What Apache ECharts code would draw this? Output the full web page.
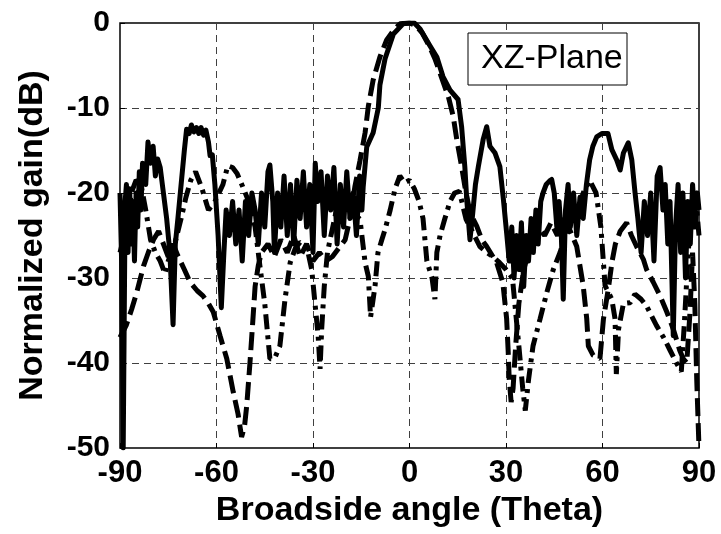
<!DOCTYPE html>
<html><head><meta charset="utf-8">
<script src="https://cdn.jsdelivr.net/npm/echarts@6/dist/echarts.min.js"></script>
<style>html,body{margin:0;padding:0;background:#fff}#c{width:721px;height:534px}</style>
</head><body><div id="c"></div>
<script>
// Axis ticks
const xTickValues = [-90, -60, -30, 0, 30, 60, 90];
const yTickValues = [-50, -40, -30, -20, -10, 0];

// Solid curve
const solidX = [
 -90,-89.5,-89,-88.4,-88,-87.5,-87,-86.5,-86,-85.5,
 -85,-84.5,-84,-83.5,-83,-82,-81.3,-80.5,-79.7,-79,
 -78.3,-77.5,-76.5,-75.5,-74.5,-73.5,-72.8,-72,-71,-70,
 -69.3,-68.5,-67.8,-67,-66.2,-65.5,-64.8,-64,-63.3,-62.5,
 -62,-61.3,-60.5,-59.5,-58.5,-57.7,-57,-56,-55,-54,
 -53,-52,-51,-50,-49,-48,-47,-46,-45,-44,
 -43.4,-42.5,-42,-41,-40,-39,-38,-37,-36,-35,
 -34,-33,-32,-31,-30,-29.3,-28.5,-27.5,-26.5,-25.5,
 -24.5,-23.5,-22.5,-21.5,-20.5,-19.5,-18.5,-17.5,-16.5,-15.5,
 -14.8,-14.4,-13.3,-11.3,-9.7,-9.2,-7.6,-5,-2,0,
 1.5,3.3,6.4,8.5,10.4,12.6,15.1,16.2,17.2,17.8,
 18.8,19.5,20.5,21.4,22.9,24,25,26.6,28.1,29.2,
 30.2,31,31.8,32.5,33.3,34,34.8,35.5,36.3,37,
 37.8,38.5,39.3,40,40.8,41.5,42.5,43.5,44.2,45,
 45.8,46.5,47.2,47.8,48.5,49.3,50,51,52,53,
 54,55,56,57,58.2,59.8,61.7,62.9,64.4,65.5,
 66.5,68,69.1,70.1,71,72,73,74,75,76,
 77,77.9,78.8,79.5,80.3,81,82,82.7,83.5,84.3,
 85,85.8,86.5,87.3,88,88.8,89.5,90
];
const solidY = [
 -20,-28,-50,-21,-19,-27,-19.5,-26,-21,-28,
 -20,-24,-17.5,-22,-16.5,-19,-14,-16.5,-14.5,-18,
 -16,-17,-20,-23,-27,-35.5,-26,-23,-19,-15,
 -12.5,-13,-12,-12.8,-12.3,-13,-12.3,-13.2,-12.6,-14,
 -15.6,-15.5,-19,-25,-33.5,-27,-22,-25,-21,-26,
 -22,-28,-21,-25,-20,-22,-26,-20,-24,-17.5,
 -16.7,-21,-27,-20,-24,-18,-25,-19,-26,-18.5,
 -23,-17.5,-24,-19,-27,-16.5,-21,-17.5,-25,-18,
 -22,-17,-26,-19,-24,-17.5,-23,-20,-25,-18,
 -22,-19.3,-14.6,-12.9,-10,-7.3,-4.2,-1.3,-0.1,0,
 0,-0.7,-2.7,-4,-6.3,-7.9,-9,-12.2,-16.9,-20.8,
 -25.5,-23,-19,-16.9,-13.7,-12.2,-14.5,-15.3,-16.9,-20.8,
 -24.7,-28,-24,-30,-25,-29,-23.5,-31,-25,-28,
 -23,-27,-22,-26,-21,-20,-19,-18.6,-18.4,-20,
 -24,-21,-25,-32.5,-22,-19,-24,-20,-25,-20.5,
 -23,-19,-16.1,-14.5,-13.4,-13,-13,-14.9,-16.1,-17.3,
 -15.3,-14.1,-16.1,-19.9,-23,-27,-21,-25,-20,-28,
 -18,-17,-22,-19,-26,-21,-36.8,-24,-19,-27,
 -20,-30,-21,-26,-19,-24,-20,-22
];

// Dashed curve
const dashX = [
 -90,-88,-86.4,-84.8,-82.7,-81.2,-79.6,-78,-76.5,-75,
 -73.5,-72,-70,-68.2,-66,-64.2,-62.5,-61,-58.9,-56.8,
 -54.8,-53.3,-52.2,-51.3,-50.6,-49.6,-48.7,-48,-47,-46,
 -44,-42,-40,-38,-36,-34,-32,-30,-28,-26,
 -24,-22,-20,-18.5,-17,-15.4,-13.8,-12.8,-11.3,-9.2,
 -7.1,-5,-3,0,2,4,6,8,9.5,12.1,
 13.6,14.7,16.2,17.2,18.8,20.9,22.5,24,27.1,29,
 30.2,30.7,31,31.6,32.2,33,34,35.5,37,38.5,
 40,42,44,46,48,50,52,54,55.1,55.6,
 57.1,59.2,60.3,61.8,63,64,65.5,67.5,69,70.6,
 72.7,73.7,75.8,77.9,80,82,84,85.1,86.2,87.2,
 88,88.7,89.3,90
];
const dashY = [
 -37,-35.5,-33.7,-31.7,-28.6,-27,-25.5,-24.5,-26,-27.5,
 -26,-27.4,-29,-30.5,-31.5,-32.1,-33,-34,-36.8,-39.5,
 -43.4,-46,-48.7,-47.5,-45,-40,-35,-31,-28.5,-27,
 -26,-27.5,-25.5,-27,-25,-27.5,-26,-28,-27,-28,
 -27.5,-26.5,-25.5,-23,-19.3,-16.2,-12.9,-9.8,-6.7,-4,
 -2,-0.9,-0.1,0,-0.3,-1.2,-2.6,-4.3,-5.9,-8.7,
 -11,-13.7,-16.9,-19.2,-22.3,-23.9,-25.5,-26.3,-28.2,-30.5,
 -34.8,-38.8,-41.9,-44.6,-43,-38,-33,-29,-27,-25,
 -24,-25,-23.5,-25,-23,-24.5,-26.3,-30.9,-34.8,-38,
 -39.1,-39.5,-34.8,-31.3,-28,-26,-24.5,-23.5,-25,-26.3,
 -27.8,-29,-30.5,-32.1,-34,-36,-38.5,-39.5,-40,-34,
 -27,-33,-42,-50
];

// Dash-dot curve
const dotX = [
 -90,-88,-86.5,-85,-83.5,-82,-80.5,-79,-77.5,-76,
 -75,-73,-71,-69.5,-68,-66.5,-64.5,-62.5,-60.5,-58,
 -56.5,-55,-53.6,-51.8,-50,-48,-46.5,-45,-43.4,-42,
 -40.3,-38.7,-37.1,-35.5,-34,-32,-30.4,-29.4,-28.4,-27.8,
 -27.3,-26.5,-25.5,-24.7,-23,-21.5,-20,-18.5,-17,-15.4,
 -13.8,-12.8,-12.1,-10.7,-9.8,-8.6,-7.6,-6,-4.5,-3,
 -1.5,0,1.5,3,4.2,5.4,7,7.9,8.5,9.5,
 11,12.6,14,15.5,17.6,19.5,21.9,24,26,28,
 30,32,34,35.2,36,37,38.4,40.6,42.7,44.7,
 46.8,48.5,50,52,54,56,58,59.5,60.8,62.9,
 63.9,64.3,65,66.5,68.6,70.1,72,73.7,76.8,79,
 81,83,84.5,85.5,86.5,87.5,88.5,89.3,90
];
const dotY = [
 -27,-24,-20,-18.5,-19,-22,-25.5,-27,-28,-29.5,
 -28,-26,-23,-20.5,-18.5,-17.5,-19.5,-22,-21,-19,
 -16.8,-17,-17.7,-19.3,-21,-24,-28.6,-33,-39.5,-39.5,
 -38,-32.5,-28.2,-26.5,-25.8,-26.2,-29,-32.9,-36.8,-40.7,
 -36,-31,-27,-25.5,-22.5,-21,-22,-21,-22.5,-23.1,
 -28.2,-29.8,-34.6,-30.9,-27,-25.5,-24.3,-22,-19.5,-18,
 -18.8,-18.5,-19.5,-21,-23,-28,-30,-32.5,-27,-25,
 -23,-21,-20,-19.8,-23.1,-24.5,-26.3,-27,-27.5,-28.2,
 -29,-30,-38,-43,-45.6,-42,-38,-34.8,-31.7,-29,
 -27,-25,-23.5,-22.5,-20,-18.5,-20,-24,-30.9,-32.5,
 -34.8,-41.3,-36,-33,-32.9,-31.9,-32.5,-33.3,-35.6,-37,
 -38.5,-40,-41,-35,-28,-22,-19.5,-22,-25
];

function pairs(xs, ys) { return xs.map((x, i) => [x, ys[i]]); }

const FONT = '"Liberation Sans", Arial, sans-serif';
const chart = echarts.init(document.getElementById('c'), null, { renderer: 'canvas' });
chart.setOption({
  animation: false,
  backgroundColor: '#fff',
  grid: { left: 120, right: 22, top: 23, bottom: 86, show: true, borderColor: '#000', borderWidth: 1.5, backgroundColor: '#fff' },
  xAxis: {
    type: 'value', position: 'bottom', min: xTickValues[0], max: xTickValues[xTickValues.length - 1], interval: 30,
    name: 'Broadside angle (Theta)', nameLocation: 'middle', nameGap: 46,
    nameTextStyle: { fontSize: 34, fontWeight: 'bold', color: '#000', fontFamily: FONT },
    axisLine: { show: false, onZero: false },
    axisTick: { show: true, inside: true, length: 5, lineStyle: { color: '#000', width: 1 } },
    axisLabel: { fontSize: 31, fontWeight: 'bold', color: '#000', margin: 10, fontFamily: FONT },
    splitLine: { show: true, lineStyle: { color: '#404040', type: [7, 5], width: 1 } }
  },
  yAxis: {
    type: 'value', position: 'left', min: yTickValues[0], max: yTickValues[yTickValues.length - 1], interval: 10,
    name: 'Normalized gain(dB)', nameLocation: 'middle', nameGap: 70,
    nameTextStyle: { fontSize: 34, fontWeight: 'bold', color: '#000', fontFamily: FONT },
    axisLine: { show: false, onZero: false },
    axisTick: { show: true, inside: true, length: 5, lineStyle: { color: '#000', width: 1 } },
    axisLabel: { fontSize: 30, fontWeight: 'bold', color: '#000', margin: 10, fontFamily: FONT },
    splitLine: { show: true, lineStyle: { color: '#404040', type: [7, 5], width: 1 } }
  },
  series: [
    { type: 'line', data: pairs(solidX, solidY), showSymbol: false, symbol: 'none', clip: true,
      lineStyle: { color: '#000', width: 5, type: 'solid', join: 'round' }, z: 3 },
    { type: 'line', data: pairs(dashX, dashY), showSymbol: false, symbol: 'none', clip: true,
      lineStyle: { color: '#000', width: 5, type: [18, 7] }, z: 4 },
    { type: 'line', data: pairs(dotX, dotY), showSymbol: false, symbol: 'none', clip: true,
      lineStyle: { color: '#000', width: 5, type: [15, 6, 4, 6] }, z: 5 }
  ],
  graphic: [
    { type: 'rect', shape: { x: 468, y: 33, width: 159, height: 52 }, style: { fill: '#fff', stroke: '#000', lineWidth: 1 }, z: 100 },
    { type: 'text', x: 481, y: 59, style: { text: 'XZ-Plane', fontSize: 34, fontFamily: FONT, fill: '#000', verticalAlign: 'middle' }, z: 101 }
  ]
});
</script>
</body></html>
